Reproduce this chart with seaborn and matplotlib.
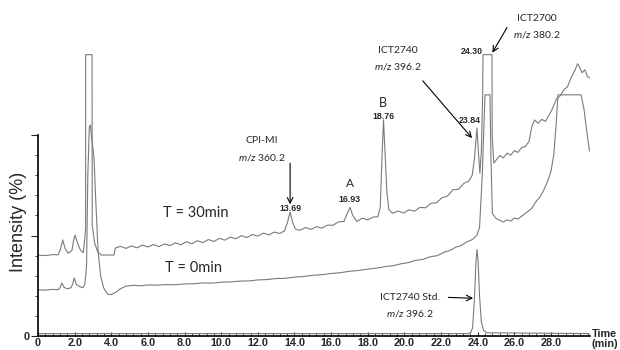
import pandas as pd
import seaborn as sns
import matplotlib.pyplot as plt
from matplotlib.ticker import MultipleLocator, FixedLocator

# chromatogram traces (time in min, intensity in %)
t30_time = [0.0, 0.4, 0.8, 1.1, 1.22, 1.35, 1.48, 1.65, 1.85, 1.93, 2.02, 2.15, 2.3, 2.47, 2.55,
            2.6, 2.6, 2.95, 2.96, 3.1, 3.25, 3.45, 3.8, 4.15, 4.22,
            4.5, 4.8, 5.1, 5.4, 5.7, 6.0, 6.3, 6.6, 6.9, 7.2, 7.5, 7.8, 8.1, 8.4, 8.7, 9.0,
            9.3, 9.6, 9.9, 10.2, 10.5, 10.8, 11.1, 11.4, 11.7, 12.0, 12.3, 12.6, 12.9, 13.2,
            13.45, 13.6, 13.76, 13.9, 14.05, 14.3, 14.6, 14.9, 15.2, 15.5, 15.8, 16.1, 16.4,
            16.7, 16.88, 17.03, 17.18, 17.4, 17.7, 18.0, 18.3, 18.55, 18.68, 18.78, 18.86,
            18.94, 19.04, 19.15, 19.35, 19.65, 19.95, 20.25, 20.55, 20.85, 21.15, 21.45,
            21.75, 22.05, 22.35, 22.65, 22.95, 23.25, 23.5, 23.7, 23.82, 23.96, 24.05, 24.12,
            24.2, 24.27, 24.29, 24.78, 24.79, 24.88, 25.0, 25.2, 25.4, 25.6, 25.8, 26.0, 26.2,
            26.4, 26.6, 26.8, 26.95, 27.1, 27.3, 27.5, 27.7, 27.9, 28.1, 28.3, 28.5, 28.7,
            28.9, 29.1, 29.3, 29.45, 29.55, 29.7, 29.85, 30.0, 30.1]
t30_int = [40.3, 40.0, 40.5, 40.4, 43.0, 47.8, 43.5, 41.2, 42.5, 47.0, 50.2, 46.5, 43.0, 41.5, 48.0,
           54.0, 140.0, 140.0, 55.0, 46.0, 42.0, 40.3, 40.3, 40.3, 43.8,
           44.6, 43.6, 44.8, 43.9, 45.2, 44.3, 45.5, 44.5, 45.8, 45.0, 46.4, 45.4, 46.9, 45.9, 47.4, 46.5,
           48.0, 47.0, 48.6, 47.7, 49.2, 48.4, 49.9, 49.0, 50.5, 49.7, 51.2, 50.3, 51.7, 51.0,
           52.3, 56.0, 61.7, 56.5, 53.2, 52.6, 54.0, 53.1, 54.4, 53.7, 55.2, 55.1, 56.8,
           57.0, 61.0, 64.0, 60.0, 57.0, 58.6, 57.8, 59.2, 59.3, 64.0, 90.0, 107.5,
           92.0, 72.0, 63.0, 61.0, 62.2, 61.2, 62.8, 62.1, 64.0, 63.8, 66.0,
           66.3, 68.8, 69.6, 72.8, 73.0, 76.0, 77.0, 80.0, 88.0, 103.5, 90.0, 81.0,
           92.0, 120.0, 140.0, 140.0, 100.0, 86.0, 87.5, 89.8, 88.6, 91.0, 90.0, 92.2, 91.4,
           93.8, 94.3, 96.8, 104.0, 107.5, 105.8, 107.8, 106.8, 110.0, 113.5, 118.0, 119.5, 122.5,
           124.0, 128.5, 132.0, 135.5, 134.0, 131.0, 132.5, 129.0, 128.5]

t0_time = [0.0, 0.4, 0.8, 1.1, 1.2, 1.3, 1.42, 1.6, 1.8, 1.9, 1.97, 2.1, 2.3, 2.45, 2.55, 2.6,
           2.65, 2.72, 2.8, 2.86, 2.92, 2.99, 3.06, 3.15, 3.28, 3.42, 3.58, 3.8, 4.0, 4.25, 4.5,
           4.8, 5.2, 5.6, 6.0, 6.5, 7.0, 7.5, 8.0, 8.5, 9.0, 9.5, 10.0, 10.5, 11.0, 11.5, 12.0,
           12.5, 13.0, 13.5, 14.0, 14.5, 15.0, 15.5, 16.0, 16.5, 17.0, 17.5, 18.0, 18.5, 19.0,
           19.4, 19.8, 20.2, 20.6, 21.0, 21.4, 21.8, 22.2, 22.5, 22.8, 23.1, 23.4, 23.7, 23.95,
           24.1, 24.25, 24.36, 24.4, 24.67, 24.72, 24.8, 25.0, 25.2, 25.4, 25.6, 25.8, 26.0,
           26.2, 26.45, 26.7, 26.95, 27.15, 27.4, 27.6, 27.8, 28.0, 28.15, 28.28, 28.38, 29.64,
           29.8, 29.95, 30.1]
t0_int = [23.0, 22.8, 23.2, 23.0, 24.0, 26.4, 24.2, 23.5, 24.0, 26.0, 28.9, 25.5, 24.5, 24.0, 25.5, 29.4,
          35.0, 80.0, 104.0, 105.0, 99.0, 94.0, 88.0, 68.0, 42.0, 30.0, 24.0, 20.8, 20.6, 21.8, 23.5,
          24.8, 25.2, 25.0, 25.4, 25.3, 25.6, 25.5, 25.9, 26.0, 26.4, 26.3, 26.8, 26.9, 27.3, 27.4, 27.9,
          28.1, 28.6, 28.7, 29.3, 29.6, 30.2, 30.5, 31.1, 31.5, 32.2, 32.6, 33.3, 33.8, 34.6,
          35.0, 35.9, 36.5, 37.6, 38.1, 39.4, 40.0, 41.8, 42.6, 44.2, 45.0, 46.8, 48.0, 50.0,
          54.0, 80.0, 110.0, 120.0, 120.0, 90.0, 61.0, 58.5, 57.6, 56.7, 57.8, 57.2, 58.7,
          58.2, 60.0, 61.7, 63.5, 66.5, 69.2, 72.5, 76.6, 82.0, 90.0, 105.0, 120.0, 120.0,
          113.0, 102.0, 92.0]

std_time = [0.0, 23.5, 23.62, 23.72, 23.82, 23.9, 23.96, 24.02, 24.1, 24.2, 24.32, 24.5, 30.1]
std_int = [1.2, 1.2, 1.8, 4.0, 18.0, 36.0, 43.0, 38.0, 20.0, 7.0, 2.8, 1.6, 1.2]

x_ticks = [0, 2, 4, 6, 8, 10, 12, 14, 16, 18, 20, 22, 24, 26, 28]
x_labels = ["0"] + ["%.1f" % v for v in x_ticks[1:]]

df = pd.concat([
    pd.DataFrame({"time": t30_time, "intensity": t30_int, "trace": "T = 30min"}),
    pd.DataFrame({"time": t0_time, "intensity": t0_int, "trace": "T = 0min"}),
    pd.DataFrame({"time": std_time, "intensity": std_int, "trace": "ICT2740 Std."}),
], ignore_index=True)

sns.set_style("ticks")
plt.rcParams["font.family"] = ["Lato", "DejaVu Sans"]
plt.rcParams["mathtext.fontset"] = "custom"
plt.rcParams["mathtext.it"] = "Lato:italic"
plt.rcParams["mathtext.rm"] = "Lato"

fig = plt.figure(figsize=(6.2, 3.5), dpi=100)
ax = fig.add_axes([38 / 620, 14 / 350, 552 / 620, 336 / 350])

grey = "#7a7a7a"
sns.lineplot(data=df, x="time", y="intensity", hue="trace", estimator=None, sort=False,
             palette={"T = 30min": grey, "T = 0min": grey, "ICT2740 Std.": grey},
             linewidth=0.8, legend=False, ax=ax)

ax.set_xlim(0, 30.13)
ax.set_ylim(0, 167.2)
ax.set_xlabel("")
ax.set_ylabel("")
for s in ["top", "right"]:
    ax.spines[s].set_visible(False)
ax.spines["left"].set_bounds(0, 100)
ax.spines["left"].set_linewidth(1.2)
ax.spines["bottom"].set_linewidth(1.2)
ax.spines["left"].set_color("black")
ax.spines["bottom"].set_color("black")

ax.set_xticks(x_ticks)
ax.set_xticklabels(x_labels, fontfamily="Liberation Sans", fontweight="bold", fontsize=7.8)
ax.xaxis.set_minor_locator(MultipleLocator(0.4))
ax.tick_params(axis="x", which="major", direction="in", length=3, width=0.8, pad=1.5)
ax.tick_params(axis="x", which="minor", direction="in", length=2, width=0.6)
ax.set_yticks([0, 50, 100])
ax.set_yticklabels(["0", "", ""], fontfamily="Liberation Sans", fontweight="bold", fontsize=7.8)
ax.yaxis.set_minor_locator(FixedLocator([10, 20, 30, 40, 60, 70, 80, 90]))
ax.tick_params(axis="y", which="major", direction="out", length=5, width=0.8, pad=1)
ax.tick_params(axis="y", which="minor", direction="out", length=2.5, width=0.6)

fig.text(19 / 620, 1 - 222 / 350, "Intensity (%)", rotation=90, ha="center", va="center",
         fontsize=13, fontfamily="Liberation Sans")
fig.text(592 / 620, 1 - 339 / 350, "Time\n(min)", ha="left", va="center", fontsize=7.8,
         fontfamily="Liberation Sans", fontweight="bold", linespacing=0.95)

arrow = dict(arrowstyle="->,head_length=0.4,head_width=0.2", color="black", lw=0.8,
             shrinkA=0, shrinkB=0)
lab = dict(ha="center", va="center", fontsize=7.5)
num = dict(ha="center", va="center", fontsize=6.3, fontweight="bold", fontfamily="Liberation Sans")

ax.text(12.23, 97.5, "CPI-MI", **lab)
ax.text(12.23, 89, r"$m/z$ 360.2", **lab)
ax.annotate("", xy=(13.76, 65.5), xytext=(13.76, 86), arrowprops=arrow)
ax.text(13.76, 63.5, "13.69", **num)

ax.text(17.03, 76, "A", ha="center", va="center", fontsize=8.5)
ax.text(17.03, 67.7, "16.93", **num)
ax.text(18.83, 116, "B", ha="center", va="center", fontsize=9)
ax.text(18.86, 109.3, "18.76", **num)

ax.text(19.65, 142, "ICT2740", **lab)
ax.text(19.65, 134, r"$m/z$ 396.2", **lab)
ax.annotate("", xy=(23.69, 98.5), xytext=(21.0, 127), arrowprops=arrow)
ax.text(23.58, 107, "23.84", **num)
ax.text(23.69, 141.5, "24.30", **num)

ax.text(27.24, 158, "ICT2700", **lab)
ax.text(27.24, 150, r"$m/z$ 380.2", **lab)
ax.annotate("", xy=(24.8, 141), xytext=(25.6, 153.5), arrowprops=arrow)

ax.text(8.62, 61.2, "T = 30min", ha="center", va="center", fontsize=10.5)
ax.text(8.5, 33.8, "T = 0min", ha="center", va="center", fontsize=10.5)

ax.text(20.3, 19.4, "ICT2740 Std.", **lab)
ax.text(20.3, 11.4, r"$m/z$ 396.2", **lab)
ax.annotate("", xy=(23.75, 18.8), xytext=(22.4, 19.2), arrowprops=arrow)

fig.savefig("out.png", dpi=100)
